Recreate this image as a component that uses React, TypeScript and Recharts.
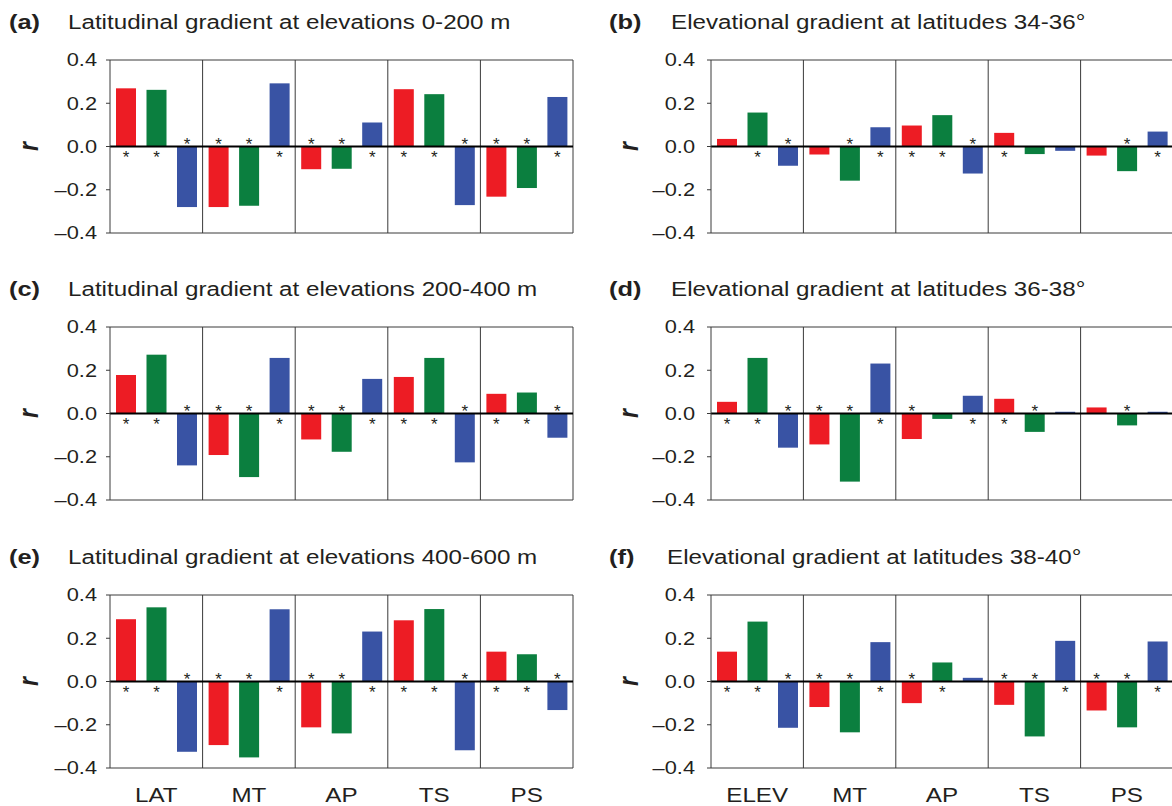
import React from 'react'
import { BarChart, Bar, XAxis, YAxis, ReferenceLine } from 'recharts'

const latCats = ['LAT', 'MT', 'AP', 'TS', 'PS']
const elevCats = ['ELEV', 'MT', 'AP', 'TS', 'PS']
const yTicks = [-0.4, -0.2, 0, 0.2, 0.4]

// significance per category: letters R/G/B mark an asterisk on that bar
// (a) latitudinal gradient, 0-200 m
const aRed = [0.269, -0.28, -0.105, 0.265, -0.232]
const aGreen = [0.262, -0.274, -0.103, 0.242, -0.192]
const aBlue = [-0.28, 0.292, 0.111, -0.271, 0.229]
const aSig = ['RGB', 'RGB', 'RGB', 'RGB', 'RGB']

// (b) elevational gradient, 34-36°
const bRed = [0.035, -0.037, 0.097, 0.063, -0.042]
const bGreen = [0.157, -0.158, 0.145, -0.035, -0.114]
const bBlue = [-0.089, 0.089, -0.125, -0.02, 0.069]
const bSig = ['GB', 'GB', 'RGB', 'R', 'GB']

// (c) latitudinal gradient, 200-400 m
const cRed = [0.178, -0.192, -0.12, 0.169, 0.091]
const cGreen = [0.272, -0.294, -0.177, 0.257, 0.097]
const cBlue = [-0.24, 0.257, 0.16, -0.226, -0.112]
const cSig = ['RGB', 'RGB', 'RGB', 'RGB', 'RGB']

// (d) elevational gradient, 36-38°
const dRed = [0.054, -0.143, -0.118, 0.068, 0.028]
const dGreen = [0.257, -0.315, -0.025, -0.085, -0.055]
const dBlue = [-0.158, 0.231, 0.082, 0.008, 0.008]
const dSig = ['RGB', 'RGB', 'RB', 'RG', 'G']

// (e) latitudinal gradient, 400-600 m
const eRed = [0.288, -0.294, -0.212, 0.283, 0.138]
const eGreen = [0.343, -0.351, -0.24, 0.335, 0.126]
const eBlue = [-0.325, 0.334, 0.231, -0.318, -0.132]
const eSig = ['RGB', 'RGB', 'RGB', 'RGB', 'RGB']

// (f) elevational gradient, 38-40°
const fRed = [0.138, -0.118, -0.1, -0.108, -0.134]
const fGreen = [0.277, -0.235, 0.088, -0.254, -0.212]
const fBlue = [-0.214, 0.182, 0.017, 0.188, 0.185]
const fSig = ['RGB', 'RGB', 'RG', 'RGB', 'RGB']

const RED = '#ED1C24'
const GREEN = '#0B7F3F'
const BLUE = '#3953A4'
const INK = '#231F20'
const LINE = '#3a3a3a'
const FONT = '"Liberation Sans", Arial, Helvetica, sans-serif'
const STRETCH = 1.21

const panels = [
  { id: 'a', title: 'Latitudinal gradient at elevations 0-200 m', cats: latCats, red: aRed, green: aGreen, blue: aBlue, sig: aSig, left: 0, top: 50, axisW: 110, tickGap: 9, showX: false },
  { id: 'b', title: 'Elevational gradient at latitudes 34-36°', cats: elevCats, red: bRed, green: bGreen, blue: bBlue, sig: bSig, left: 600, top: 50, axisW: 111, tickGap: 12, showX: false },
  { id: 'c', title: 'Latitudinal gradient at elevations 200-400 m', cats: latCats, red: cRed, green: cGreen, blue: cBlue, sig: cSig, left: 0, top: 317, axisW: 110, tickGap: 9, showX: false },
  { id: 'd', title: 'Elevational gradient at latitudes 36-38°', cats: elevCats, red: dRed, green: dGreen, blue: dBlue, sig: dSig, left: 600, top: 317, axisW: 111, tickGap: 12, showX: false },
  { id: 'e', title: 'Latitudinal gradient at elevations 400-600 m', cats: latCats, red: eRed, green: eGreen, blue: eBlue, sig: eSig, left: 0, top: 585, axisW: 110, tickGap: 9, showX: true },
  { id: 'f', title: 'Elevational gradient at latitudes 38-40°', cats: elevCats, red: fRed, green: fGreen, blue: fBlue, sig: fSig, left: 600, top: 585, axisW: 111, tickGap: 12, showX: true },
]

function YTick(props: any) {
  const { x, y, payload } = props
  const label = Number(payload.value).toFixed(1).replace('-', '\u2013')
  return (
    <text transform={`translate(${x},${y}) scale(${STRETCH},1)`} textAnchor="end" dy="0.36em"
      fontSize={18} fill={INK} fontFamily={FONT}>{label}</text>
  )
}

function XTick(props: any) {
  const { x, y, payload } = props
  return (
    <text transform={`translate(${x},${y + 34}) scale(${STRETCH},1)`} textAnchor="middle"
      fontSize={20} fill={INK} fontFamily={FONT}>{payload.value}</text>
  )
}

// bar with its significance asterisk next to the zero line
function starBar(values: number[], sig: string[], key: string) {
  return (props: any) => {
    const { x, y, width, height, fill, index } = props
    const top = height < 0 ? y + height : y
    const h = Math.abs(height)
    const v = values[index]
    const zero = v >= 0 ? top + h : top
    const cy = v >= 0 ? zero + 6.5 : zero - 6.5
    const star = sig[index].includes(key)
    return (
      <g>
        <rect x={x} y={top} width={width} height={h} fill={fill} />
        {star && (
          <text x={x + width / 2} y={cy + 9.5} textAnchor="middle" fontSize={17} fill={INK} fontFamily={FONT}>*</text>
        )}
      </g>
    )
  }
}

function Panel({ p }: { p: any }) {
  const data = p.cats.map((c: string, i: number) => ({ cat: c, red: p.red[i], green: p.green[i], blue: p.blue[i] }))
  const last = p.cats[p.cats.length - 1]
  return (
    <BarChart width={583} height={223} data={data} margin={{ top: 10, right: 10, bottom: 0, left: 0 }}
      barSize={20} barGap={10.5}>
      <XAxis dataKey="cat" height={40} tickSize={0} tickMargin={0} interval={0}
        axisLine={{ stroke: LINE }} tickLine={false} tick={p.showX ? <XTick /> : false} />
      <YAxis domain={[-0.4, 0.4]} ticks={yTicks} width={p.axisW} tickSize={4} tickMargin={p.tickGap}
        interval={0} axisLine={{ stroke: LINE }} tickLine={{ stroke: LINE }} tick={<YTick />} />
      <ReferenceLine y={0.4} stroke={LINE} />
      {p.cats.slice(1).map((c: string) => (
        <ReferenceLine key={c} x={c} position="start" stroke={LINE} />
      ))}
      <ReferenceLine x={last} position="end" stroke={LINE} />
      <Bar dataKey="red" fill={RED} isAnimationActive={false} shape={starBar(p.red, p.sig, 'R')} />
      <Bar dataKey="green" fill={GREEN} isAnimationActive={false} shape={starBar(p.green, p.sig, 'G')} />
      <Bar dataKey="blue" fill={BLUE} isAnimationActive={false} shape={starBar(p.blue, p.sig, 'B')} />
      <ReferenceLine y={0} stroke="#000" strokeWidth={2} />
    </BarChart>
  )
}

export default function App() {
  return (
    <div style={{ position: 'absolute', left: 0, top: 0, width: 1172, height: 806, overflow: 'hidden', background: '#fff' }}>
      {panels.map((p) => (
        <div key={p.id} style={{ position: 'absolute', left: p.left, top: p.top }}>
          <Panel p={p} />
        </div>
      ))}
      <svg width={1172} height={806} style={{ position: 'absolute', left: 0, top: 0, pointerEvents: 'none' }}>
        {panels.map((p) => {
          const right = p.left > 0
          const base = p.top - 21
          const zeroY = p.top + 10 + 86.5
          const rx = right ? 630 : 30
          return (
            <g key={p.id} fontFamily={FONT} fill={INK}>
              <text transform={`translate(${right ? 609 : 9},${base}) scale(${STRETCH},1)`} fontSize={21} fontWeight="bold">({p.id})</text>
              <text transform={`translate(${right ? (p.id === 'f' ? 667 : 671) : 68},${base}) scale(${STRETCH},1)`} fontSize={20}>{p.title}</text>
              <text transform={`translate(${rx + 8},${zeroY}) scale(${STRETCH},1) rotate(-90)`} textAnchor="middle"
                fontSize={23} fontWeight="bold" fontStyle="italic">r</text>
            </g>
          )
        })}
      </svg>
    </div>
  )
}
